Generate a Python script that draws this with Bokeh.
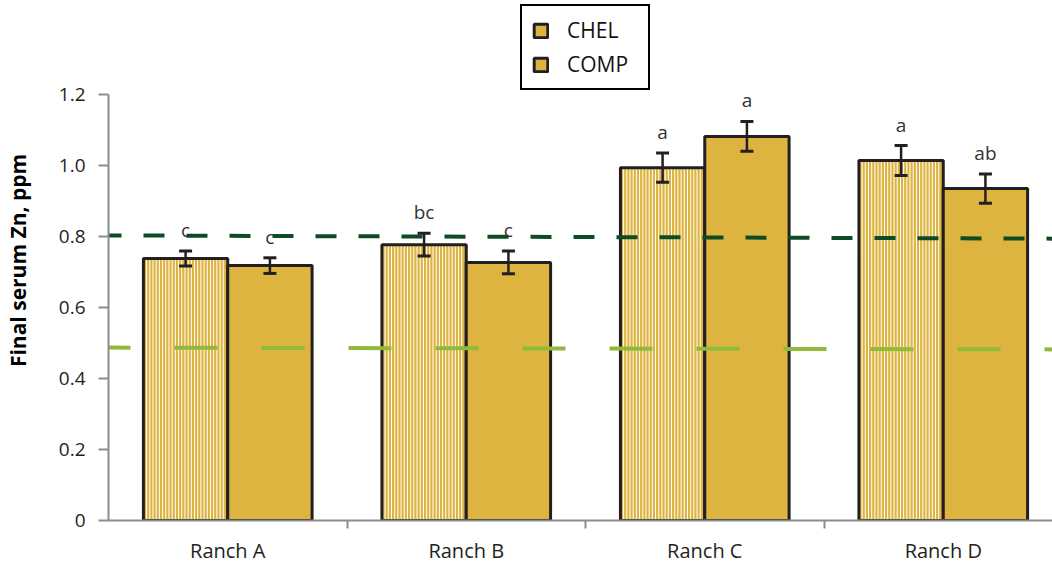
import numpy as np
from bokeh.plotting import figure
from bokeh.models import (Range1d, FixedTicker, Whisker, TeeHead, ColumnDataSource,
                          Legend, LegendItem, PrintfTickFormatter)
from bokeh.core.properties import value
from bokeh.embed import file_html
from bokeh.resources import INLINE

# ---------------- data ----------------
ranches = ["Ranch A", "Ranch B", "Ranch C", "Ranch D"]
chel = [0.738, 0.777, 0.994, 1.014]
chel_err = [0.021, 0.032, 0.041, 0.042]
comp = [0.718, 0.727, 1.082, 0.935]
comp_err = [0.022, 0.032, 0.042, 0.041]
chel_letters = ["c", "bc", "a", "a"]
comp_letters = ["c", "c", "a", "ab"]
ref_high = [0.803, 0.794]   # dark green dashed reference (left, right)
ref_low = [0.487, 0.482]    # light green dashed reference (left, right)
y_ticks = [0, 0.2, 0.4, 0.6, 0.8, 1.0, 1.2]

# ---------------- layout ----------------
X_END = 3.958
Y_AXIS_MAX = 1.2
Y_VIEW_TOP = Y_AXIS_MAX * 520 / 426   # room above the axis for the legend
BAR_W = 0.3536
PX_PER_UNIT = 946 / X_END
STRIPE_STEP = 3.2 / PX_PER_UNIT
GOLD = "#deb441"
EDGE = "#231f20"
AXIS_GRAY = "#8c8c8c"
FONT = "Open Sans"

centers = [i + 0.5 for i in range(len(ranches))]
chel_x = [c - BAR_W / 2 for c in centers]
comp_x = [c + BAR_W / 2 for c in centers]

src_chel = ColumnDataSource(dict(x=chel_x, top=chel,
                                 up=[v + e for v, e in zip(chel, chel_err)],
                                 lo=[v - e for v, e in zip(chel, chel_err)],
                                 lab=chel_letters))
src_comp = ColumnDataSource(dict(x=comp_x, top=comp,
                                 up=[v + e for v, e in zip(comp, comp_err)],
                                 lo=[v - e for v, e in zip(comp, comp_err)],
                                 lab=comp_letters))

# stripe positions inside each CHEL bar (derived from the bar positions)
sx, stop = [], []
for x, t in zip(chel_x, chel):
    xs = np.arange(x - BAR_W / 2 + STRIPE_STEP, x + BAR_W / 2 - STRIPE_STEP / 2, STRIPE_STEP)
    sx.extend(xs.tolist())
    stop.extend([t] * len(xs))
src_stripes = ColumnDataSource(dict(x=sx, y0=[0] * len(sx), y1=stop))

p = figure(width=1052, height=566, output_backend="svg", toolbar_location=None,
           x_range=Range1d(0, X_END), y_range=Range1d(0, Y_VIEW_TOP),
           min_border_left=106, min_border_right=0, min_border_top=0, min_border_bottom=46)
p.outline_line_color = None
p.xgrid.visible = False
p.ygrid.visible = False
p.background_fill_color = "white"

r_chel_fill = p.vbar(x="x", top="top", width=BAR_W, source=src_chel,
                     fill_color=GOLD, line_color=None)
p.segment(x0="x", y0="y0", x1="x", y1="y1", source=src_stripes,
          line_color="white", line_width=1.0)
r_chel_edge = p.vbar(x="x", top="top", width=BAR_W, source=src_chel,
                     fill_color=None, line_color=EDGE, line_width=3)
r_comp = p.vbar(x="x", top="top", width=BAR_W, source=src_comp,
                fill_color=GOLD, line_color=EDGE, line_width=3)

# reference lines
p.line(x=[0, X_END], y=ref_high, line_color="#0c4b24", line_width=4,
       line_dash="21 22", line_dash_offset=8)
p.line(x=[0, X_END], y=ref_low, line_color="#8fba3a", line_width=4,
       line_dash="43 44", line_dash_offset=21)

# error bars and letters
for src in (src_chel, src_comp):
    w = Whisker(base="x", upper="up", lower="lo", source=src,
                line_color=EDGE, line_width=2.5,
                upper_head=TeeHead(size=13, line_color=EDGE, line_width=3),
                lower_head=TeeHead(size=13, line_color=EDGE, line_width=3))
    w.level = "annotation"
    p.add_layout(w)
    p.text(x="x", y="up", text="lab", source=src, text_align="center",
           text_baseline="alphabetic", y_offset=-21, text_font=value(FONT),
           text_font_size="19px", text_color="#333333")

# axes
yax = p.yaxis[0]
yax.ticker = FixedTicker(ticks=y_ticks, minor_ticks=[])
yax.bounds = (0, Y_AXIS_MAX)
yax.formatter = PrintfTickFormatter(format="%.1f")
yax.major_label_overrides = {0: "0"}
yax.axis_line_color = AXIS_GRAY
yax.axis_line_width = 2
yax.major_tick_line_color = AXIS_GRAY
yax.major_tick_line_width = 2
yax.major_tick_out = 10
yax.major_tick_in = 0
yax.major_label_standoff = 13
yax.major_label_text_font = FONT
yax.major_label_text_font_size = "19px"
yax.major_label_text_color = EDGE
yax.axis_label = "Final serum Zn, ppm"
yax.axis_label_text_font = FONT
yax.axis_label_text_font_style = "bold"
yax.axis_label_text_font_size = "21px"
yax.axis_label_text_color = "#000000"
yax.axis_label_standoff = 24

xax = p.xaxis[0]
xax.ticker = FixedTicker(ticks=centers, minor_ticks=[1, 2, 3])
xax.major_label_overrides = {c: r for c, r in zip(centers, ranches)}
xax.axis_line_color = AXIS_GRAY
xax.axis_line_width = 2
xax.major_tick_out = 0
xax.major_tick_in = 0
xax.minor_tick_out = 8
xax.minor_tick_in = 0
xax.minor_tick_line_color = AXIS_GRAY
xax.minor_tick_line_width = 2
xax.major_label_standoff = 8
xax.major_label_text_font = FONT
xax.major_label_text_font_size = "20px"
xax.major_label_text_color = EDGE

legend = Legend(items=[LegendItem(label="CHEL", renderers=[r_chel_fill, r_chel_edge]),
                       LegendItem(label="COMP", renderers=[r_comp])],
                location=(412, 430))
legend.border_line_color = "#000000"
legend.border_line_alpha = 1.0
legend.border_line_width = 2.5
legend.padding = 10
legend.spacing = 6
legend.glyph_width = 17
legend.glyph_height = 17
legend.label_height = 20
legend.label_width = 71
legend.label_standoff = 18
legend.label_text_font = FONT
legend.label_text_font_size = "21px"
legend.label_text_color = "#111111"
legend.background_fill_alpha = 1
p.add_layout(legend)

open("out.html", "w").write(file_html(p, INLINE))
